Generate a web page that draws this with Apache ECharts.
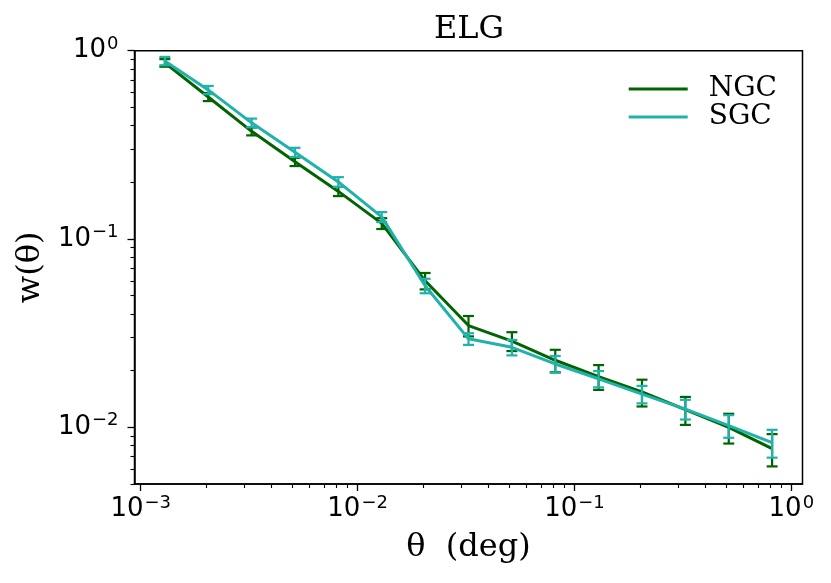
<!DOCTYPE html>
<html><head><meta charset="utf-8">
<script src="https://cdn.jsdelivr.net/npm/echarts@6/dist/echarts.min.js"></script>
<style>html,body{margin:0;padding:0;background:#fff}#c{width:831px;height:583px}</style>
</head><body><div id="c"></div>
<script>
// angular separation bin centres (deg)
const theta = [0.001292, 0.002048, 0.003246, 0.005145, 0.008154, 0.01292, 0.02048, 0.03246, 0.05145, 0.08154, 0.1292, 0.2048, 0.3246, 0.5145, 0.8154];
// NGC w(theta) and errors
const ngcW   = [0.862, 0.568, 0.373, 0.257, 0.179, 0.121, 0.0600, 0.0347, 0.0287, 0.0227, 0.0186, 0.0154, 0.0124, 0.0100, 0.0077];
const ngcErr = [0.040, 0.028, 0.018, 0.013, 0.010, 0.008, 0.0060, 0.0043, 0.0033, 0.0031, 0.0028, 0.0025, 0.0021, 0.0018, 0.0015];
// SGC w(theta) and errors
const sgcW   = [0.882, 0.619, 0.414, 0.289, 0.201, 0.131, 0.0565, 0.0295, 0.0266, 0.0217, 0.0181, 0.0150, 0.0125, 0.0102, 0.0083];
const sgcErr = [0.045, 0.031, 0.022, 0.016, 0.012, 0.008, 0.0050, 0.0021, 0.0025, 0.0022, 0.0018, 0.0016, 0.0015, 0.0014, 0.0014];
// axis ranges and decade ticks (exponents)
const xRange = [0.000936, 1.1257];
const yRange = [0.005, 1.0];
const xDecades = [-3, -2, -1, 0];
const yDecades = [-2, -1, 0];

const L = Math.log10;
const xMin = L(xRange[0]), xMax = L(xRange[1]);
const yMin = L(yRange[0]), yMax = L(yRange[1]);

function minorTicks(lo, hi) {
  const out = [];
  for (let n = Math.floor(lo) - 1; n <= Math.ceil(hi); n++) {
    for (let k = 2; k <= 9; k++) {
      const v = n + L(k);
      if (v >= lo - 1e-9 && v <= hi + 1e-9) out.push(v);
    }
  }
  return out;
}
const xMinor = minorTicks(xMin, xMax);
const yMinor = minorTicks(yMin, yMax);

const C_NGC = '#006400', C_SGC = '#20b2aa';
const serif = 'DejaVu Serif';
const sans = 'DejaVu Sans';

const W = 831, H = 583;
const G = { left: 134.5, right: 28.5, top: 50.7, bottom: 99 };
const gridW = W - G.left - G.right, gridH = H - G.top - G.bottom;

function powLabel(v) {
  const e = Math.round(v);
  return '{b|10}{s|' + (e < 0 ? '\u2212' + (-e) : String(e)) + '}';
}
const richLab = {
  b: { fontFamily: sans, fontSize: 26, color: '#000' },
  s: { fontFamily: sans, fontSize: 18, color: '#000', padding: [0, 0, 13, 1] }
};

function lineData(w) { return theta.map((t, i) => [L(t), L(w[i])]); }
function errData(w, e) { return theta.map((t, i) => [L(t), L(w[i] - e[i]), L(w[i] + e[i])]); }

function errSeries(name, w, e, color, z) {
  return {
    type: 'custom', name: name + '_err', z: z,
    data: errData(w, e),
    encode: { x: 0, y: [1, 2] },
    silent: true,
    renderItem: function (params, api) {
      const x = api.value(0);
      const p1 = api.coord([x, api.value(1)]);
      const p2 = api.coord([x, api.value(2)]);
      const cw = 5.5;
      const st = { stroke: color, lineWidth: 2.2 };
      return {
        type: 'group',
        children: [
          { type: 'line', shape: { x1: p1[0], y1: p1[1], x2: p2[0], y2: p2[1] }, style: st },
          { type: 'line', shape: { x1: p1[0] - cw, y1: p1[1], x2: p1[0] + cw, y2: p1[1] }, style: st },
          { type: 'line', shape: { x1: p2[0] - cw, y1: p2[1], x2: p2[0] + cw, y2: p2[1] }, style: st }
        ]
      };
    }
  };
}

const chart = echarts.init(document.getElementById('c'), null, { renderer: 'canvas' });
chart.setOption({
  animation: false,
  backgroundColor: '#fff',
  title: {
    text: 'ELG', left: 464, top: 9, textAlign: 'center',
    textStyle: { fontFamily: serif, fontSize: 32, fontWeight: 'normal', color: '#000' }
  },
  legend: {
    orient: 'vertical', right: 49, top: 70, itemGap: 0,
    itemWidth: 59, itemHeight: 3,
    data: [{ name: 'NGC', icon: 'rect' }, { name: 'SGC', icon: 'rect' }],
    textStyle: { fontFamily: serif, fontSize: 28, color: '#000', lineHeight: 27, padding: [0, 0, 0, 16] }
  },
  grid: {
    left: G.left, right: G.right, top: G.top, bottom: G.bottom,
    show: true, borderColor: '#000', borderWidth: 1.5, backgroundColor: 'transparent'
  },
  xAxis: [
    {
      type: 'value', min: xMin, max: xMax, position: 'bottom',
      name: '\u03b8  (deg)', nameLocation: 'middle', nameGap: 48,
      nameTextStyle: { fontFamily: serif, fontSize: 32, color: '#000' },
      axisLine: { show: true, onZero: false, lineStyle: { color: '#000', width: 1.5 } },
      axisTick: { show: true, inside: false, length: 7, lineStyle: { color: '#000', width: 1.3 }, customValues: xDecades },
      axisLabel: { show: true, margin: 10, formatter: powLabel, rich: richLab, customValues: xDecades },
      splitLine: { show: false }
    },
    {
      // minor ticks: declared at top, shifted down onto the bottom edge, ticks pointing outward (down)
      type: 'value', min: xMin, max: xMax, position: 'top', offset: -gridH,
      axisLine: { show: false, onZero: false },
      axisTick: { show: true, inside: true, length: 4, lineStyle: { color: '#000', width: 1.1 }, customValues: xMinor },
      axisLabel: { show: false },
      splitLine: { show: false }
    }
  ],
  yAxis: [
    {
      type: 'value', min: yMin, max: yMax, position: 'left',
      name: 'w(\u03b8)', nameLocation: 'middle', nameGap: 86,
      nameTextStyle: { fontFamily: serif, fontSize: 32, color: '#000' },
      axisLine: { show: true, onZero: false, lineStyle: { color: '#000', width: 1.5 } },
      axisTick: { show: true, inside: false, length: 7, lineStyle: { color: '#000', width: 1.3 }, customValues: yDecades },
      axisLabel: { show: true, margin: 16, formatter: powLabel, rich: richLab, customValues: yDecades },
      splitLine: { show: false }
    },
    {
      // minor ticks: declared at right, shifted left onto the left edge, ticks pointing outward (left)
      type: 'value', min: yMin, max: yMax, position: 'right', offset: -gridW,
      axisLine: { show: false, onZero: false },
      axisTick: { show: true, inside: true, length: 4, lineStyle: { color: '#000', width: 1.1 }, customValues: yMinor },
      axisLabel: { show: false },
      splitLine: { show: false }
    }
  ],
  series: [
    {
      name: 'NGC', type: 'line', data: lineData(ngcW), z: 3,
      symbol: 'none', color: C_NGC,
      lineStyle: { color: C_NGC, width: 3 }
    },
    errSeries('NGC', ngcW, ngcErr, C_NGC, 4),
    {
      name: 'SGC', type: 'line', data: lineData(sgcW), z: 5,
      symbol: 'none', color: C_SGC,
      lineStyle: { color: C_SGC, width: 3 }
    },
    errSeries('SGC', sgcW, sgcErr, C_SGC, 6)
  ]
});
</script>
</body></html>
